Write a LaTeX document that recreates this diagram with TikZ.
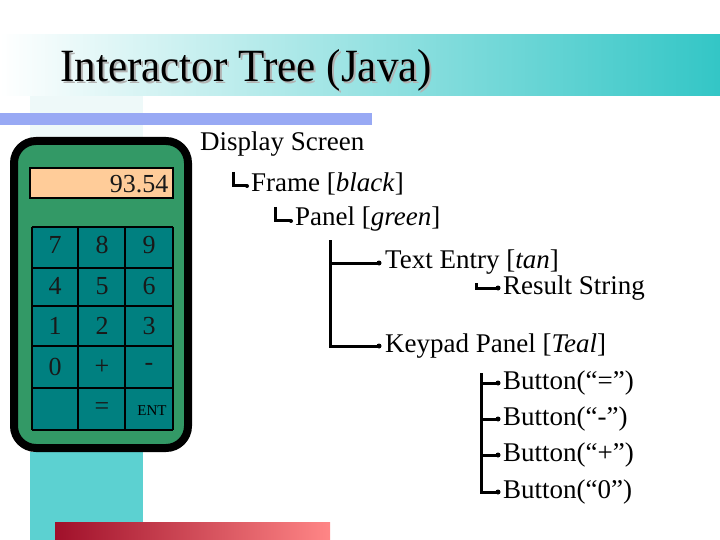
\documentclass[tikz,border=0pt]{standalone}
\usepackage{fontspec}
\setmainfont{Liberation Serif}
\usetikzlibrary{calc}
\definecolor{tealband}{HTML}{33C6C6}
\definecolor{palecyan}{HTML}{EEF9F9}
\definecolor{bluebar}{HTML}{98A9F4}
\definecolor{calcgreen}{HTML}{339966}
\definecolor{keyteal}{HTML}{008080}
\definecolor{tanfill}{HTML}{FFCC99}
\definecolor{redbar}{HTML}{A0102A}
\begin{document}
\begin{tikzpicture}[x=1pt,y=-1pt,
  tree/.style={anchor=west,inner sep=0pt,font=\fontsize{27}{29}\selectfont},
  key/.style={font=\fontsize{26}{28}\selectfont,text=black!90},
  conn/.style={line width=3pt},
  dotend/.style={fill,circle,inner sep=0pt,minimum size=5pt}]
\useasboundingbox (0,0) rectangle (720,540);
% title band
\shade[left color=white,right color=tealband] (0,35) rectangle (720,96);
\fill[palecyan] (30,96) rectangle (143,452);
\fill[tealband!80] (30,452) rectangle (143,540);
\fill[bluebar] (0,113) rectangle (372,125);
\shade[left color=redbar,right color=red!30!pink] (55,522) rectangle (330,540);
\node[anchor=base west,inner sep=0pt,text=gray!60] (tsh) at (62,84) {\scalebox{0.98}[1.05]{\fontsize{44}{46}\selectfont Interactor Tree (Java)}};
\node[anchor=base west,inner sep=0pt] (title) at (60,82) {\scalebox{0.98}[1.05]{\fontsize{44}{46}\selectfont Interactor Tree (Java)}};
% calculator
\draw[line width=8pt,fill=calcgreen,rounded corners=22pt] (14,141) rectangle (188,448);
\draw[line width=1.5pt,fill=tanfill] (30,168) rectangle (173,198);
\node[anchor=east,key] (disp) at (172,184) {93.54};
\fill[keyteal] (32,227) rectangle (173,430);
\foreach \xx in {32,78,125,173} \draw[line width=2.5pt] (\xx,227) -- (\xx,430);
\foreach \yy in {227,268,306,346,388,430} \draw[line width=2.5pt] (32,\yy) -- (173,\yy);
\foreach \t/\c/\r in {7/55/245,8/102/245,9/149/245,4/55/286,5/102/286,6/149/286,1/55/326,2/102/326,3/149/326,0/55/367,+/102/367,-/149/367,=/102/409}
  \node[key] at (\c,\r) {\t};
\node[font=\fontsize{15}{16}\selectfont] (ent) at (152,411) {ENT};
% tree
\node[tree] (ds) at (200,144) {Display Screen};
\node[tree] (fr) at (251,184) {Frame [\textit{black}]};
\node[tree] (pa) at (295,219) {Panel [\textit{green}]};
\node[tree] (te) at (385,262) {Text Entry [\textit{tan}]};
\node[tree] (rs) at (503,288) {Result String};
\node[tree] (kp) at (385,346) {Keypad Panel [\textit{Teal}]};
\node[tree] (b1) at (503,383) {Button(“=”)};
\node[tree] (b2) at (503,419) {Button(“-”)};
\node[tree] (b3) at (503,455) {Button(“+”)};
\node[tree] (b4) at (503,492) {Button(“0”)};
\draw[line width=3pt] (233,172) |- ($(fr.west)+(-4,2)$) node[dotend,minimum size=4pt]{};
\draw[line width=3pt] (275,207) |- ($(pa.west)+(-4,2)$) node[dotend,minimum size=4pt]{};
\draw[conn] (330,240) |- ($(kp.west)+(-6,0)$) node[dotend]{};
\draw[conn] (330,263) -- ($(te.west)+(-6,1)$) node[dotend]{};
\draw[conn] (476,283) |- ($(rs.west)+(-5,0)$) node[dotend]{};
\draw[conn] (481,373) |- ($(b4.west)+(-5,0)$) node[dotend]{};
\foreach \b in {b1,b2,b3} \draw[conn] (481,0 |- \b.west) -- ($(\b.west)+(-5,0)$) node[dotend]{};
\end{tikzpicture}
\end{document}
